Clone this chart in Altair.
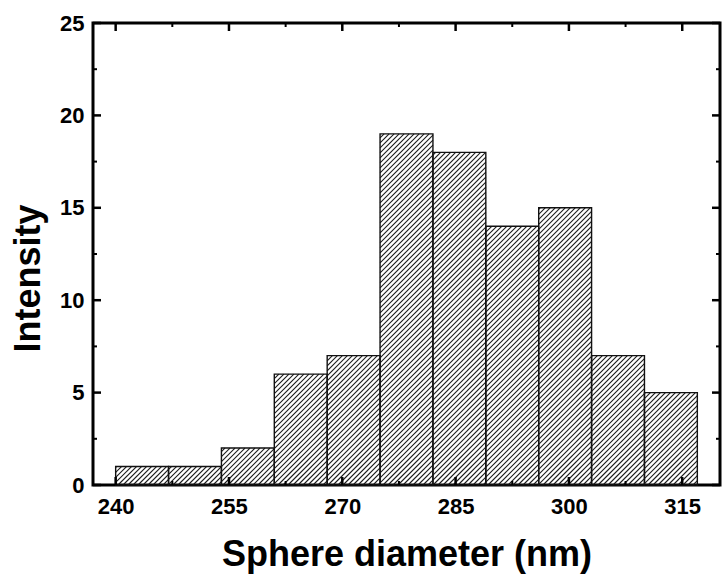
import altair as alt
import pandas as pd

# ---- data ----
bin_starts = [240, 247, 254, 261, 268, 275, 282, 289, 296, 303, 310]
bin_width = 7
counts = [1, 1, 2, 6, 7, 19, 18, 14, 15, 7, 5]

x_major = [240, 255, 270, 285, 300, 315]
x_minor = [247.5, 262.5, 277.5, 292.5, 307.5]
y_major = [0, 5, 10, 15, 20, 25]
y_minor = [2.5, 7.5, 12.5, 17.5, 22.5]

XMIN, XMAX = 237, 320
YMIN, YMAX = 0, 25
W, H = 627, 462

bars = pd.DataFrame({
    "x0": bin_starts,
    "x1": [s + bin_width for s in bin_starts],
    "n": counts,
})

# ---- hatch segments derived from the bars (45 deg in screen space) ----
ax = W / (XMAX - XMIN)
ay = H / (YMAX - YMIN)
spacing = 5.0
segs = []
for x0, v in zip(bin_starts, counts):
    x1 = x0 + bin_width
    X0, X1, Yh = (x0 - XMIN) * ax, (x1 - XMIN) * ax, v * ay
    k = int((X0 - Yh) // spacing)
    while k * spacing < X1:
        c = k * spacing
        xs = max(X0, c)
        xe = min(X1, c + Yh)
        if xe > xs:
            segs.append({
                "hx": XMIN + xs / ax, "hy": (xs - c) / ay,
                "hx2": XMIN + xe / ax, "hy2": (xe - c) / ay,
            })
        k += 1
hatch = pd.DataFrame(segs)

xscale = alt.Scale(domain=[XMIN, XMAX], nice=False, zero=False)
yscale = alt.Scale(domain=[YMIN, YMAX], nice=False)

FONT = "Liberation Sans"

x_axis = alt.Axis(
    values=x_major, format="d", domain=False, ticks=False, grid=False,
    labelFont=FONT, labelFontSize=22, labelFontWeight="bold", labelColor="black",
    labelPadding=11, title="Sphere diameter (nm)", titleFont=FONT,
    titleFontSize=36, titleFontWeight="bold", titleColor="black", titlePadding=20)
y_axis = alt.Axis(
    values=y_major, format="d", domain=False, ticks=False, grid=False,
    labelFont=FONT, labelFontSize=22, labelFontWeight="bold", labelColor="black",
    labelPadding=9, title="Intensity", titleFont=FONT,
    titleFontSize=36, titleFontWeight="bold", titleColor="black", titlePadding=12,
    titleY=255)

hatch_layer = alt.Chart(hatch).mark_rule(color="#1a1a1a", strokeWidth=1.1).encode(
    x=alt.X("hx:Q", scale=xscale, axis=x_axis),
    x2="hx2:Q",
    y=alt.Y("hy:Q", scale=yscale, axis=y_axis),
    y2="hy2:Q",
)

bar_layer = alt.Chart(bars).mark_rect(fill=None, stroke="#111111", strokeWidth=1.4).encode(
    x=alt.X("x0:Q", scale=xscale, axis=x_axis),
    x2="x1:Q",
    y=alt.Y("n:Q", scale=yscale, axis=y_axis),
    y2=alt.datum(0),
)

def xticks(vals, length, width):
    df = pd.DataFrame({"t": vals})
    base = alt.Chart(df).mark_rule(color="black", strokeWidth=width)
    bottom = base.encode(x=alt.X("t:Q", scale=xscale, axis=x_axis),
                         y=alt.value(H), y2=alt.value(H - length))
    top = base.encode(x=alt.X("t:Q", scale=xscale, axis=x_axis),
                      y=alt.value(0), y2=alt.value(length))
    return [bottom, top]

def yticks(vals, length, width):
    df = pd.DataFrame({"t": vals})
    base = alt.Chart(df).mark_rule(color="black", strokeWidth=width)
    left = base.encode(y=alt.Y("t:Q", scale=yscale, axis=y_axis),
                       x=alt.value(0), x2=alt.value(length))
    right = base.encode(y=alt.Y("t:Q", scale=yscale, axis=y_axis),
                        x=alt.value(W), x2=alt.value(W - length))
    return [left, right]

layers = [hatch_layer, bar_layer]
layers += xticks(x_major, 8, 2.5) + xticks(x_minor, 4, 2)
layers += yticks(y_major, 8, 2.5) + yticks(y_minor, 4, 2)

chart = alt.layer(*layers).properties(
    width=W, height=H,
    autosize=alt.AutoSizeParams(type="none"),
    padding={"left": 93, "top": 23, "right": 6, "bottom": 94},
    background="white",
).configure_view(stroke="black", strokeWidth=3)

chart.save("out.html", embed_options={"renderer": "svg", "actions": False})
